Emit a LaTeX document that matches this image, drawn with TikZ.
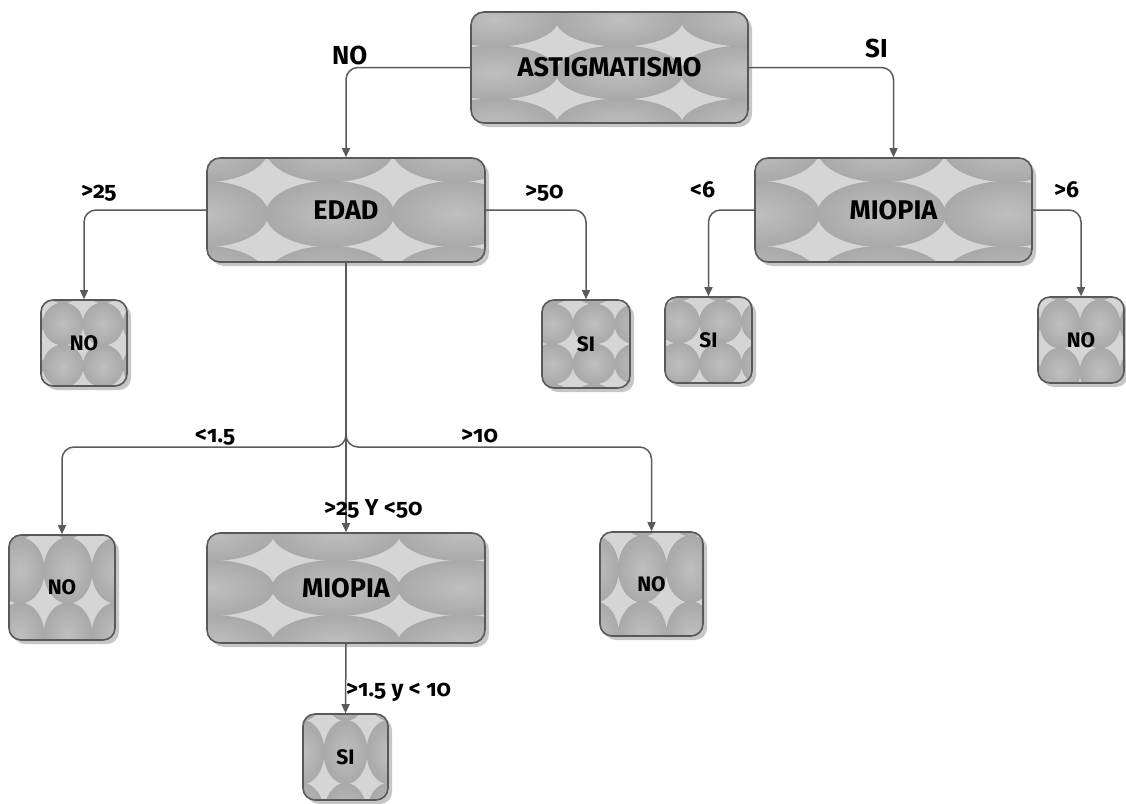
\documentclass[tikz,border=0pt]{standalone}
\usepackage{fontspec}
\setmainfont{Fira Sans}[Numbers=OldStyle]
\usetikzlibrary{calc,arrows.meta,shadows}

\definecolor{tileIn}{HTML}{BFBFBF}
\definecolor{tileOut}{HTML}{A9A9A9}
\definecolor{starc}{HTML}{D5D5D5}
\definecolor{edgec}{HTML}{595959}
\definecolor{shadowc}{HTML}{C6C6C6}
\definecolor{connc}{HTML}{5A5A5A}

% grid of shaded ellipses filling a box: offset (#1,#2), spacing (#3,#4)
\newcommand\tilegrid[4]{%
  \foreach \i in {-2,...,2}{%
    \foreach \j in {-2,...,2}{%
      \shade[inner color=tileIn, outer color=tileOut]
        ($(path picture bounding box.center)+({#1+\i*#3},{#2+\j*#4})$)
        ellipse [x radius={0.51pt*#3}, y radius={0.51pt*#4}];}}}

\tikzset{
  box/.style={draw=edgec, line width=1.6pt, fill=starc, rounded corners=13pt,
    inner sep=0pt, text=black,
    drop shadow={shadow xshift=4pt, shadow yshift=-4pt, fill=shadowc, opacity=1}},
  tiles/.style n args={4}{path picture={\tilegrid{#1}{#2}{#3}{#4}}},
  bigtext/.style={font=\bfseries\fontsize{27}{27}\selectfont},
  smalltext/.style={font=\bfseries\fontsize{21}{21}\selectfont},
  lbl/.style={anchor=base west, inner sep=0pt, font=\bfseries\fontsize{23}{23}\selectfont},
  toplbl/.style={anchor=base west, inner sep=0pt, font=\bfseries\fontsize{26}{26}\selectfont},
  conn/.style={draw=connc, line width=1.5pt, rounded corners=12pt,
    -{Triangle[length=9pt,width=8pt]}},
}

\begin{document}
\begin{tikzpicture}[x=1pt, y=-1pt]
\useasboundingbox (0,0) rectangle (1126,803);

% decision boxes
\node[box, bigtext, minimum width=277pt, minimum height=111pt, tiles={10}{5}{125}{53}]
  (astig) at (609.5,67.5) {ASTIGMATISMO};
\node[box, bigtext, minimum width=278pt, minimum height=104pt, tiles={-16}{4}{126}{65}]
  (edad) at (346,210) {EDAD};
\node[box, bigtext, minimum width=277pt, minimum height=104pt, tiles={-12}{4}{126}{65}]
  (miopR) at (893.5,210) {MIOPIA};
\node[box, bigtext, minimum width=278pt, minimum height=110pt, tiles={-10}{0}{126}{55}]
  (miopB) at (346,588) {MIOPIA};

% leaf boxes
\node[box, smalltext, rounded corners=12pt, minimum width=86pt, minimum height=86pt, tiles={-21}{-19}{40}{42}]
  (no1) at (84,343) {NO};
\node[box, smalltext, rounded corners=12pt, minimum width=88pt, minimum height=88pt, tiles={8}{-20}{42}{40}]
  (si1) at (586,344) {SI};
\node[box, smalltext, rounded corners=12pt, minimum width=87pt, minimum height=86pt, tiles={12}{-18}{42}{42}]
  (si2) at (708.5,340) {SI};
\node[box, smalltext, rounded corners=12pt, minimum width=86pt, minimum height=86pt, tiles={-21}{-16}{40}{48}]
  (no2) at (1081,340) {NO};
\node[box, smalltext, rounded corners=12pt, minimum width=106pt, minimum height=105pt, tiles={6}{-17}{48}{65}]
  (no3) at (62,587.5) {NO};
\node[box, smalltext, rounded corners=12pt, minimum width=103pt, minimum height=104pt, tiles={-9}{-15}{48}{66}]
  (no4) at (651.5,584) {NO};
\node[box, smalltext, rounded corners=12pt, minimum width=85pt, minimum height=86pt, tiles={0}{-5}{43}{63}]
  (si3) at (345.5,757) {SI};

% connectors
\draw[conn] (astig.west) -| (edad.north);
\draw[conn] (astig.east) -| (miopR.north);
\draw[conn] (edad.west) -| (no1.north);
\draw[conn] (edad.east) -| (si1.north);
\draw[conn] (miopR.west) -| (si2.north);
\draw[conn] (miopR.east) -| (no2.north);
\coordinate (split) at (346,447);
\draw[conn] (edad.south) -- (split) -- (no3.north |- split) -- (no3.north);
\draw[conn] (edad.south) -- (split) -- (no4.north |- split) -- (no4.north);
\draw[conn] (edad.south) -- (miopB.north);
\draw[conn] (miopB.south) -- (si3.north);

% branch labels
\node[toplbl] (lNo) at (332,64) {NO};
\node[toplbl] (lSi) at (865,57) {SI};
\node[lbl] (l25) at (81,198) {>25};
\node[lbl] (l50) at (525,198) {>50};
\node[lbl] (l6a) at (690,197) {<6};
\node[lbl] (l6b) at (1054,197) {>6};
\node[lbl] (l15) at (195,442) {<1.5};
\node[lbl] (l10) at (461,442) {>10};
\node[lbl] (lmid) at (324,515) {>25 Y <50};
\node[lbl] (lbot) at (346,696) {>1.5 y < 10};
\end{tikzpicture}
\end{document}
